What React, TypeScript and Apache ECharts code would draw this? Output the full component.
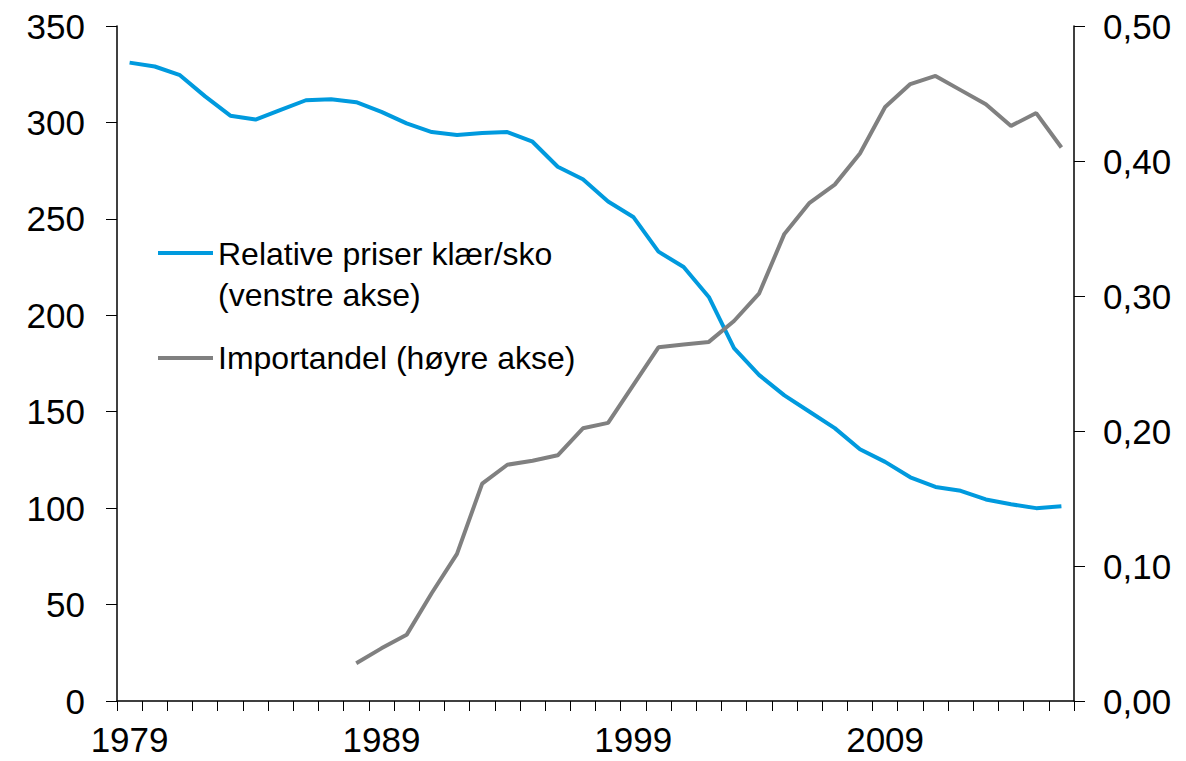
import React, { useEffect, useRef } from "react";
import * as echarts from "echarts";

const years = [
  "1979", "1980", "1981", "1982", "1983", "1984", "1985", "1986", "1987", "1988",
  "1989", "1990", "1991", "1992", "1993", "1994", "1995", "1996", "1997", "1998",
  "1999", "2000", "2001", "2002", "2003", "2004", "2005", "2006", "2007", "2008",
  "2009", "2010", "2011", "2012", "2013", "2014", "2015", "2016",
];

// Relative priser klær/sko (venstre akse)
const relativePrices = [
  331, 329, 324.5, 313.5, 303.5, 301.5, 306.5, 311.5, 312, 310.5,
  305.5, 299.5, 295, 293.5, 294.5, 295, 290, 277, 270.5, 259,
  251, 233, 225, 209.5, 183, 169, 158.5, 150, 141.5, 130.5,
  124, 116, 111, 109, 104.5, 102, 100, 101,
];

// Importandel (høyre akse)
const importShare = [
  null, null, null, null, null, null, null, null, null, 0.028,
  0.039, 0.049, 0.08, 0.109, 0.161, 0.175, 0.178, 0.182, 0.202, 0.206,
  0.234, 0.262, 0.264, 0.266, 0.2815, 0.302, 0.346, 0.369, 0.3825, 0.4055,
  0.44, 0.457, 0.463, 0.4525, 0.442, 0.426, 0.4355, 0.41,
];

const seriesNames = ["Relative priser klær/sko (venstre akse)", "Importandel (høyre akse)"];
const legendLines = [["Relative priser klær/sko", "(venstre akse)"], ["Importandel (høyre akse)"]];

const BLUE = "#009ADE";
const GRAY = "#808080";
const FONT = "Liberation Sans, Arial, sans-serif";

export default function App() {
  const ref = useRef<HTMLDivElement>(null);

  useEffect(() => {
    if (!ref.current) return;
    const chart = echarts.init(ref.current, undefined, { renderer: "svg" });
    const axisText = { fontSize: 35, color: "#000", fontFamily: FONT };
    const legendText = { fontSize: 32, fontFamily: FONT, fill: "#000", verticalAlign: "middle", align: "left" };
    chart.setOption({
      animation: false,
      backgroundColor: "#fff",
      grid: { left: 117, right: 112, top: 26, bottom: 60, containLabel: false, outerBoundsMode: "none" },
      xAxis: {
        type: "category",
        data: years,
        boundaryGap: true,
        axisLine: { show: true, lineStyle: { color: "#000", width: 1.5 } },
        axisTick: { show: true, interval: 0, length: 10, lineStyle: { color: "#000", width: 1 } },
        axisLabel: { ...axisText, interval: 9, margin: 21 },
        splitLine: { show: false },
      },
      yAxis: [
        {
          type: "value",
          position: "left",
          min: 0,
          max: 350,
          interval: 50,
          axisLine: { show: true, lineStyle: { color: "#000", width: 1.5 } },
          axisTick: { show: true, length: 11, lineStyle: { color: "#000", width: 1 } },
          axisLabel: { ...axisText, margin: 32 },
          splitLine: { show: false },
        },
        {
          type: "value",
          position: "right",
          min: 0,
          max: 0.5,
          interval: 0.1,
          axisLine: { show: true, lineStyle: { color: "#000", width: 1.5 } },
          axisTick: { show: true, length: 11, lineStyle: { color: "#000", width: 1 } },
          axisLabel: {
            ...axisText,
            margin: 29,
            formatter: (v: number) => v.toFixed(2).replace(".", ","),
          },
          splitLine: { show: false },
        },
      ],
      series: [
        {
          name: seriesNames[0],
          type: "line",
          yAxisIndex: 0,
          data: relativePrices,
          symbol: "none",
          lineStyle: { color: BLUE, width: 4 },
          itemStyle: { color: BLUE },
        },
        {
          name: seriesNames[1],
          type: "line",
          yAxisIndex: 1,
          data: importShare,
          symbol: "none",
          lineStyle: { color: GRAY, width: 4 },
          itemStyle: { color: GRAY },
        },
      ],
      graphic: [
        { type: "line", shape: { x1: 158, y1: 253, x2: 213, y2: 253 }, style: { stroke: BLUE, lineWidth: 4 } },
        { type: "text", x: 218, y: 254, style: { ...legendText, text: legendLines[0][0] } },
        { type: "text", x: 218, y: 295, style: { ...legendText, text: legendLines[0][1] } },
        { type: "line", shape: { x1: 158, y1: 358, x2: 213, y2: 358 }, style: { stroke: GRAY, lineWidth: 4 } },
        { type: "text", x: 218, y: 358, style: { ...legendText, text: legendLines[1][0] } },
      ],
    });
    return () => chart.dispose();
  }, []);

  return <div ref={ref} style={{ position: "absolute", left: 0, top: 0, width: 1186, height: 761 }} />;
}
